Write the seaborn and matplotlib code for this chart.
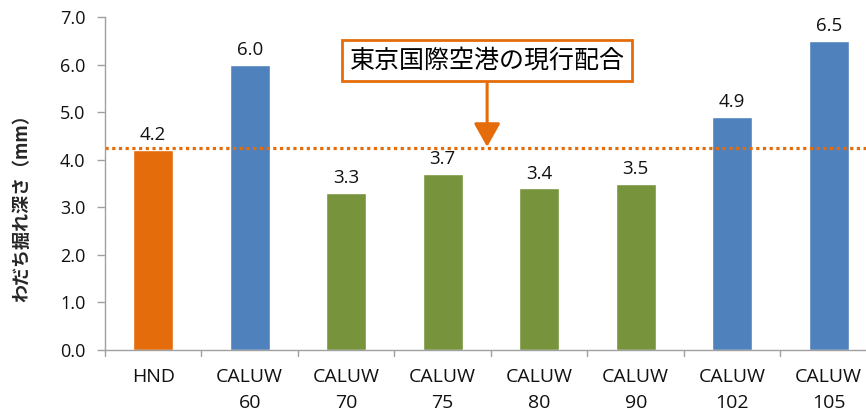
import matplotlib
matplotlib.use("Agg")
import matplotlib.pyplot as plt
import seaborn as sns
import pandas as pd

# Rut depth per mix
categories = ["HND", "CALUW\n60", "CALUW\n70", "CALUW\n75", "CALUW\n80",
              "CALUW\n90", "CALUW\n102", "CALUW\n105"]
depths = [4.2, 6.0, 3.3, 3.7, 3.4, 3.5, 4.9, 6.5]
groups = ["ref", "high", "low", "low", "low", "low", "high", "high"]
reference_level = 4.25
y_ticks = [0.0, 1.0, 2.0, 3.0, 4.0, 5.0, 6.0, 7.0]

palette = {"ref": "#E46C0A", "high": "#4F81BD", "low": "#77933C"}

df = pd.DataFrame({"cat": categories, "depth": depths, "group": groups})

sns.set_theme(style="white")
plt.rcParams["font.family"] = ["Open Sans", "Noto Sans CJK JP", "DejaVu Sans"]

fig = plt.figure(figsize=(8.66, 4.18), dpi=100)
ax = fig.add_axes([0.1212, 0.1627, 0.8915, 0.7966])

sns.barplot(data=df, x="cat", y="depth", hue="group", palette=palette,
            dodge=False, width=0.415, legend=False, ax=ax, saturation=1)

ax.set_ylim(0, 7)
ax.set_xlim(-0.5, len(categories) - 0.5)
ax.set_yticks(y_ticks)
ax.set_yticklabels([f"{v:.1f}" for v in y_ticks], fontsize=13, color="#111111")
ax.set_xticks(range(len(categories)))
ax.set_xticklabels(categories, fontsize=14, color="#111111", linespacing=1.6)
ax.tick_params(axis="x", length=0, pad=13)
ax.tick_params(axis="y", length=6, width=1, color="#A0A0A0", left=True, pad=8)

# boundary ticks between categories
for b in [i - 0.5 for i in range(len(categories) + 1)]:
    ax.plot([b, b], [0, -0.13], color="#A0A0A0", lw=1, clip_on=False)

for side in ["top", "right"]:
    ax.spines[side].set_visible(False)
for side in ["left", "bottom"]:
    ax.spines[side].set_color("#A0A0A0")
    ax.spines[side].set_linewidth(1)

ax.set_xlabel("")
ax.set_ylabel("わだち掘れ深さ（mm）", fontsize=13, fontweight="bold",
              family=["Noto Sans CJK JP", "DejaVu Sans"])
ax.yaxis.set_label_coords(-0.095, 0.44)

# value labels
for i, v in enumerate(depths):
    ax.text(i, v + 0.12, f"{v:.1f}", ha="center", va="bottom", fontsize=13.5,
            color="#111111")

# current mix reference line
ax.axhline(reference_level, color="#E46C0A", lw=2.3, linestyle=(0, (1, 1.1)))

ax.annotate("東京国際空港の現行配合", xy=(3.46, reference_level + 0.02),
            xytext=(3.46, 6.09), ha="center", va="center", fontsize=18,
            family=["Noto Sans CJK JP", "DejaVu Sans"], color="#000000",
            bbox=dict(boxstyle="square,pad=0.3", fc="white", ec="#E46C0A", lw=2),
            arrowprops=dict(arrowstyle="-|>,head_length=0.8,head_width=0.45",
                            color="#E46C0A", lw=2.2, shrinkA=0, shrinkB=0))

fig.savefig("out.png", dpi=100)
